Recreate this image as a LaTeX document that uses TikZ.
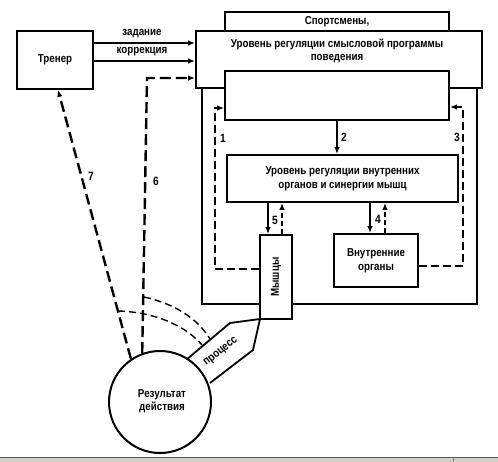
\documentclass[tikz,border=0pt]{standalone}
\usepackage{fontspec}
\setmainfont{Liberation Sans}[FakeStretch=0.85]
\usetikzlibrary{arrows.meta,calc}
\definecolor{bargray}{RGB}{212,208,200}
\begin{document}
\begin{tikzpicture}[x=1pt,y=-1pt,
  box/.style={draw, line width=1.8pt, fill=white, inner sep=0pt},
  txt/.style={font=\fontsize{11.5}{13.5}\selectfont\bfseries, align=center, inner sep=0pt},
  num/.style={font=\fontsize{12}{13}\selectfont\bfseries, inner sep=0pt},
  tip/.style={-{Latex[length=7pt,width=5.5pt]}},
  sarr/.style={line width=1.6pt, tip},
  darr/.style={line width=2.2pt, dash pattern=on 8pt off 4pt, tip},
  dline/.style={line width=2.4pt, dash pattern=on 11pt off 5pt},
  arcline/.style={line width=1.4pt, dash pattern=on 7pt off 4pt},
  edge/.style={line width=1.8pt, line join=round}]
\useasboundingbox (0,0) rectangle (498,462);
% bottom grey strip
\fill[bargray] (0,457) rectangle (498,462);
\draw[gray!70!black, line width=0.8pt] (0,457) -- (498,457);
\draw[gray, line width=0.6pt] (453,457) -- (453,462);

% boxes
\node[box, minimum width=224pt, minimum height=19pt] (sport) at (337,21.5) {};
\node[txt] (sporttxt) at (337,22) {Спортсмены,};
\node[box, fill=none, minimum width=275pt, minimum height=216pt] (frame) at (339.5,196) {};
\node[box, minimum width=286pt, minimum height=57pt] (big) at (339,59.5) {};
\node[txt] (bigtxt) at (337,51) {Уровень регуляции смысловой программы\\поведения};
\node[box, minimum width=224pt, minimum height=49pt] (inner) at (337,95.5) {};
\node[box, txt, minimum width=231pt, minimum height=47pt] (reg) at (342.5,178.5) {Уровень регуляции внутренних\\органов и синергии мышц};
\node[box, minimum width=32pt, minimum height=84pt] (musc) at (276,277) {};
\node[txt, rotate=90] (musctxt) at (276,277) {Мышцы};
\node[box, txt, minimum width=84pt, minimum height=53pt] (org) at (376,260.5) {Внутренние\\органы};
\node[box, txt, minimum width=76pt, minimum height=58pt] (trainer) at (55,60) {Тренер};

% process shape
\coordinate (p1) at (186,360);
\coordinate (p2) at (230,323);
\coordinate (p3) at (260,319);
\coordinate (p4) at (253,350);
\coordinate (p5) at (210,383);
\draw[edge, fill=white] (p1) -- (p2) -- (p3) -- (p4) -- (p5);
\node[circle, draw, line width=2pt, fill=white, minimum size=102pt, inner sep=0pt] (res) at (160,402) {};
\node[txt] (restxt) at (162,401) {Результат\\действия};
\node[txt, rotate=38] (proc) at (221,352) {процесс};

% trainer arrows
\draw[sarr] (trainer.east |- 0,43) -- (big.west |- 0,43);
\draw[sarr] (trainer.east |- 0,61) -- (big.west |- 0,61);
\node[txt] (zad) at (142,34) {задание};
\node[txt] (korr) at (142,52) {коррекция};

% arrow 2
\draw[sarr] (inner.south) -- (inner.south |- reg.north);
\node[num] (n2) at (344,137) {2};

% arrows 5
\coordinate (m5a) at (268,0);
\coordinate (m5b) at (282,0);
\draw[sarr] (reg.south -| m5a) -- (musc.north -| m5a);
\draw[darr, dash pattern=on 5pt off 3pt] (musc.north -| m5b) -- (reg.south -| m5b);
\node[num] (n5) at (275,220) {5};

% arrows 4
\coordinate (m4a) at (370,0);
\coordinate (m4b) at (385,0);
\draw[sarr] (reg.south -| m4a) -- (org.north -| m4a);
\draw[darr, dash pattern=on 5pt off 3pt] (org.north -| m4b) -- (reg.south -| m4b);
\node[num] (n4) at (378,219) {4};

% loop 1
\coordinate (b1a) at (215,269);
\coordinate (b1b) at (215,108);
\draw[darr] (musc.west |- b1a) -- (b1a) -- (b1b) -- (inner.west |- b1b);
\node[num] (n1) at (223,138) {1};

% loop 3
\coordinate (b3a) at (463,266);
\coordinate (b3b) at (463,107);
\draw[darr] (org.east |- b3a) -- (b3a) -- (b3b) -- (inner.east |- b3b);
\node[num] (n3) at (457,137) {3};

% line 6
\coordinate (c6) at (147,78);
\draw[dline, tip] (res.110) -- (c6) -- (big.west |- c6);
\node[num] (n6) at (156,181) {6};

% line 7
\draw[dline, tip] (res.124) -- ([xshift=3pt]trainer.south);
\node[num] (n7) at (91,176) {7};

% dashed arcs
\coordinate (a1s) at (144,297);
\coordinate (a1e) at (210,339);
\coordinate (a2s) at (118,311);
\coordinate (a2e) at (202,345);
\draw[arcline] (a1s) .. controls (175,304) and (197,318) .. (a1e);
\draw[arcline] (a2s) .. controls (155,312) and (186,326) .. (a2e);
\end{tikzpicture}
\end{document}
